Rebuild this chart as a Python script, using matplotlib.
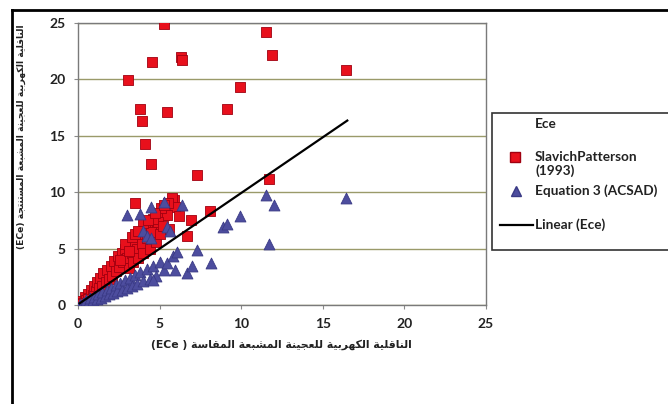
import matplotlib
matplotlib.use('Agg')
import matplotlib.pyplot as plt
from matplotlib.lines import Line2D
from matplotlib.patches import Rectangle

# بيانات الرسم (مقروءة من الصورة)
slavich_x = [5.3, 11.5, 11.9, 4.55, 6.3, 6.4, 3.05, 9.9, 3.8, 5.45, 9.1, 3.95, 4.1, 4.5, 7.3, 11.7, 16.4,
             3.5, 5.9, 8.1, 6.9, 6.7, 5.6, 5.3, 4.8, 5.75, 5.95, 5.45, 4.93, 4.2,
             0.1, 0.25, 0.3, 0.45, 0.5, 0.6, 0.7, 0.8, 0.9, 0.95, 1.1, 1.15, 1.3, 1.35, 1.5, 1.55, 1.7,
             1.75, 1.9, 2.0, 2.1, 2.2, 2.3, 2.45, 2.5, 2.7, 2.75, 2.9, 3.0, 3.1, 3.2, 3.3, 3.4, 3.5,
             3.6, 3.7, 3.8, 3.9, 4.0, 4.1, 4.2, 4.4, 4.5, 4.6, 4.8, 5.0, 5.1, 5.2, 5.5, 6.2,
             0.2, 0.4, 0.6, 1.0, 2.6, 2.9, 3.1, 3.3, 3.5, 4.0, 4.3, 4.7, 5.3, 3.7]
slavich_y = [24.9, 24.2, 22.2, 21.5, 22.0, 21.7, 19.95, 19.3, 17.4, 17.1, 17.4, 16.3, 14.25, 12.5, 11.5, 11.2, 20.8,
             9.0, 9.3, 8.3, 7.5, 6.1, 6.7, 8.0, 7.2, 9.45, 8.7, 7.95, 7.4, 7.25,
             0.1, 0.35, 0.15, 0.7, 0.4, 1.0, 0.65, 1.3, 0.9, 1.7, 1.2, 2.0, 1.5, 2.4, 1.7, 2.8, 2.0,
             3.1, 2.3, 3.5, 2.6, 3.9, 3.0, 4.3, 3.4, 4.6, 3.8, 5.0, 4.2, 3.3, 5.3, 4.6, 3.8, 5.7,
             5.0, 4.2, 6.2, 5.4, 4.6, 6.8, 5.9, 5.0, 6.5, 7.6, 5.6, 6.3, 8.6, 7.0, 9.0, 7.9,
             0.05, 0.2, 0.5, 0.8, 4.0, 5.4, 4.8, 6.0, 6.3, 7.3, 7.5, 8.2, 8.9, 6.6]

acsad_x = [0.15, 0.3, 0.45, 0.5, 0.65, 0.75, 0.9, 1.0, 1.15, 1.25, 1.4, 1.5, 1.65, 1.75, 1.9, 2.0, 2.15,
           2.3, 2.4, 2.6, 2.7, 2.9, 3.0, 3.2, 3.3, 3.5, 3.6, 3.8, 4.0, 4.2, 4.4, 4.6, 4.8, 5.0, 5.25,
           5.45, 5.8, 6.05, 5.95, 6.7, 7.0, 7.3, 8.15, 4.6,
           3.0, 3.8, 4.5, 5.25, 6.4, 4.0, 4.2, 4.5, 5.45, 5.65, 8.9, 9.15, 9.9, 11.5, 12.0, 11.7, 16.4]
acsad_y = [0.1, 0.2, 0.3, 0.45, 0.35, 0.6, 0.45, 0.75, 0.55, 0.95, 0.65, 1.15, 0.8, 1.35, 0.95, 1.55, 1.05,
           1.75, 1.2, 1.95, 1.35, 2.2, 1.5, 2.4, 1.7, 2.65, 1.9, 2.9, 2.1, 3.2, 2.3, 3.5, 2.6, 3.8, 3.1,
           3.7, 4.3, 4.7, 3.1, 2.8, 3.45, 4.9, 3.7, 2.2,
           8.0, 8.1, 8.7, 9.1, 8.85, 6.6, 6.1, 5.9, 6.9, 6.6, 6.95, 7.15, 7.85, 9.75, 8.9, 5.45, 9.5]

trend_x = [0.1, 16.5]
trend_y = [0.15, 16.35]

ticks = [0, 5, 10, 15, 20, 25]
legend_labels = ['Ece', 'SlavichPatterson\n(1993)', 'Equation 3 (ACSAD)', 'Linear (Ece)']

xlabel_ar = 'الناقلية الكهربية للعجينة المشبعة المقاسة'
ylabel_ar = 'الناقلية الكهربية للعجينة المشبعة المستنتجة'

# اشكال الحروف العربية (Presentation Forms-B)
AR_FORMS = {
    'ا': (0xFE8D, 2), 'ب': (0xFE8F, 4), 'ة': (0xFE93, 2), 'ت': (0xFE95, 4),
    'ج': (0xFE9D, 4), 'ر': (0xFEAD, 2), 'س': (0xFEB1, 4), 'ش': (0xFEB5, 4),
    'ط': (0xFEC1, 4), 'ع': (0xFEC9, 4), 'ق': (0xFED5, 4), 'ك': (0xFED9, 4),
    'ل': (0xFEDD, 4), 'م': (0xFEE1, 4), 'ن': (0xFEE5, 4), 'ه': (0xFEE9, 4),
    'ي': (0xFEF1, 4),
}


def shape_arabic(text):
    out = []
    for i, ch in enumerate(text):
        if ch not in AR_FORMS:
            out.append(ch)
            continue
        base, n = AR_FORMS[ch]
        prev = text[i - 1] if i > 0 else ''
        nxt = text[i + 1] if i + 1 < len(text) else ''
        join_prev = prev in AR_FORMS and AR_FORMS[prev][1] == 4
        join_next = nxt in AR_FORMS and n == 4
        if join_prev and join_next:
            form = 3
        elif join_prev:
            form = 1
        elif join_next:
            form = 2
        else:
            form = 0
        out.append(chr(base + form))
    return ''.join(reversed(out))


W, H = 668, 404
fig = plt.figure(figsize=(W / 100, H / 100), dpi=100)
fig.patch.set_facecolor('white')

ax = fig.add_axes([78 / W, 1 - 305 / H, (486 - 78) / W, (305 - 23) / H])

red = '#e8101c'
red_edge = '#a00010'
blue = '#4d4d9e'
blue_edge = '#3a3a85'

ax.scatter(slavich_x, slavich_y, marker='s', s=55, c=red, edgecolors=red_edge, linewidths=0.6, zorder=3)
ax.scatter(acsad_x, acsad_y, marker='^', s=62, c=blue, edgecolors=blue_edge, linewidths=0.6, zorder=4)
ax.plot(trend_x, trend_y, color='black', lw=1.6, zorder=5)

ax.set_xlim(0, 25)
ax.set_ylim(0, 25)
ax.set_xticks(ticks)
ax.set_yticks(ticks)
ax.grid(axis='y', color='#9a9a6a', lw=1.0)
ax.set_axisbelow(True)
for s in ax.spines.values():
    s.set_color('#7a7a7a')
    s.set_linewidth(1.0)
ax.tick_params(length=3, color='#8a8a8a', labelsize=10, pad=6)
for lab in ax.get_xticklabels() + ax.get_yticklabels():
    lab.set_fontweight('bold')
    lab.set_fontfamily('Lato')
    lab.set_color('#222222')

fig.text(281 / W, 1 - 345 / H, '(ECe ) ' + shape_arabic(xlabel_ar), ha='center', va='center',
         fontsize=7.8, fontweight='bold', family='DejaVu Sans', color='#222222')
fig.text(21 / W, 1 - 137 / H, '(ECe) ' + shape_arabic(ylabel_ar), ha='center', va='center',
         rotation=90, fontsize=6.6, fontweight='bold', family='DejaVu Sans', color='#222222')

# اطار الشكل الخارجي
fig.add_artist(Line2D([12 / W, 1.0], [1 - 10 / H, 1 - 10 / H], color='black', lw=2))
fig.add_artist(Line2D([12 / W, 12 / W], [0, 1 - 10 / H], color='black', lw=2))

# مربع المفتاح
fig.add_artist(Rectangle((492 / W, 1 - 250 / H), 200 / W, 137 / H, transform=fig.transFigure,
                         facecolor='white', edgecolor='#333333', lw=1.2, clip_on=False))
leg_y = [124, 164, 191, 225]
for lab, yy in zip(legend_labels, leg_y):
    fig.text(535 / W, 1 - yy / H, lab, ha='left', va='center', fontsize=9.8, family='Lato',
             fontweight='bold', color='#222222', linespacing=1.15)
fig.add_artist(Line2D([515 / W], [1 - 157 / H], marker='s', markersize=6.5, color=red,
                      markeredgecolor=red_edge, lw=0))
fig.add_artist(Line2D([516 / W], [1 - 191 / H], marker='^', markersize=7, color=blue,
                      markeredgecolor=blue_edge, lw=0))
fig.add_artist(Line2D([500 / W, 533 / W], [1 - 225 / H, 1 - 225 / H], color='black', lw=1.6))

fig.savefig('out.png', dpi=100)
